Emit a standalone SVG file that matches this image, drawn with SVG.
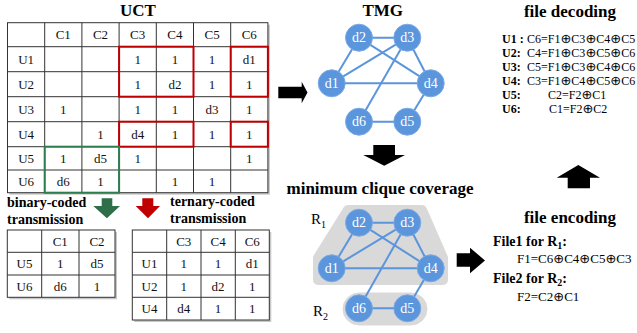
<svg xmlns="http://www.w3.org/2000/svg" width="637" height="333" viewBox="0 0 637 333">
<defs>
<style>
.t{font-family:"Liberation Serif","DejaVu Serif",serif;font-size:13px;fill:#111;text-anchor:middle}
.title{font-family:"Liberation Serif","DejaVu Serif",serif;font-size:17px;font-weight:bold;fill:#000;text-anchor:middle}
.sub{font-family:"Liberation Serif","DejaVu Serif",serif;font-size:14px;font-weight:bold;fill:#000}
.eq{font-family:"Liberation Serif","DejaVu Serif",serif;font-size:12px;fill:#000}
.eq2{font-family:"Liberation Serif","DejaVu Serif",serif;font-size:13px;fill:#000}
.x{font-family:"DejaVu Sans",sans-serif;font-size:13px}
.lab{font-family:"Liberation Serif","DejaVu Serif",serif;font-size:12px;font-weight:bold;fill:#000}
.grid{fill:none;stroke:#333;stroke-width:1}
.shadow{fill:#c8c8c8}
.red{fill:none;stroke:#c00000;stroke-width:2}
.grn{fill:none;stroke:#2e7d4f;stroke-width:2}
.edge{stroke:#5b95dc;stroke-width:2;fill:none}
.node circle{fill:#5b95dc;stroke:#7aaae6;stroke-width:1}
.node text{font-family:"Liberation Serif","DejaVu Serif",serif;font-size:14px;fill:#fff;text-anchor:middle}
.region{fill:#d9d9d9;stroke:#d9d9d9}
.arrow{fill:#000}
.rl{font-family:"Liberation Serif","DejaVu Serif",serif;font-size:15px;fill:#000}
</style>
</defs>

<!-- UCT table -->
<g id="uct">
<text class="title" x="138" y="16">UCT</text>
<rect class="shadow" x="9.5" y="24.7" width="260.4" height="170"/>
<rect x="7.5" y="22.7" width="260.4" height="170" fill="#fff"/>
<g class="grid">
<rect x="7.5" y="22.7" width="260.4" height="170"/>
<path d="M44.7 22.7V192.7M81.9 22.7V192.7M119.1 22.7V192.7M156.3 22.7V192.7M193.5 22.7V192.7M230.7 22.7V192.7"/>
<path d="M7.5 46.7H267.9M7.5 71.7H267.9M7.5 96.7H267.9M7.5 121.7H267.9M7.5 146.7H267.9M7.5 170H267.9"/>
</g>
<g class="t">
<text x="63.3" y="39">C1</text><text x="100.5" y="39">C2</text><text x="137.7" y="39">C3</text><text x="174.9" y="39">C4</text><text x="212.1" y="39">C5</text><text x="249.3" y="39">C6</text>
<text x="26.1" y="63.5">U1</text><text x="137.7" y="63.5">1</text><text x="174.9" y="63.5">1</text><text x="212.1" y="63.5">1</text><text x="249.3" y="63.5">d1</text>
<text x="26.1" y="88.5">U2</text><text x="137.7" y="88.5">1</text><text x="174.9" y="88.5">d2</text><text x="212.1" y="88.5">1</text><text x="249.3" y="88.5">1</text>
<text x="26.1" y="113.5">U3</text><text x="63.3" y="113.5">1</text><text x="137.7" y="113.5">1</text><text x="174.9" y="113.5">1</text><text x="212.1" y="113.5">d3</text><text x="249.3" y="113.5">1</text>
<text x="26.1" y="138.5">U4</text><text x="100.5" y="138.5">1</text><text x="137.7" y="138.5">d4</text><text x="174.9" y="138.5">1</text><text x="212.1" y="138.5">1</text><text x="249.3" y="138.5">1</text>
<text x="26.1" y="162.5">U5</text><text x="63.3" y="162.5">1</text><text x="100.5" y="162.5">d5</text><text x="137.7" y="162.5">1</text><text x="249.3" y="162.5">1</text>
<text x="26.1" y="186">U6</text><text x="63.3" y="186">d6</text><text x="100.5" y="186">1</text><text x="174.9" y="186">1</text><text x="212.1" y="186">1</text>
</g>
<rect class="red" x="119.1" y="46.7" width="74.4" height="50"/>
<rect class="red" x="230.7" y="46.7" width="37.2" height="50"/>
<rect class="red" x="119.1" y="121.7" width="74.4" height="25"/>
<rect class="red" x="230.7" y="121.7" width="37.2" height="25"/>
<rect class="grn" x="44.7" y="146.7" width="74.4" height="46"/>
</g>

<!-- labels and arrows below UCT -->
<g id="binary-label">
<text class="sub" x="7" y="207">binary-coded</text>
<text class="sub" x="7" y="224">transmission</text>
<polygon fill="#2e6e48" points="101.7,198.3 112.3,198.3 112.3,206 120,206 106.9,218.3 93.3,206 101.7,206"/>
</g>
<g id="ternary-label">
<text class="sub" x="170" y="206">ternary-coded</text>
<text class="sub" x="170" y="223">transmission</text>
<polygon fill="#c00000" points="142.3,198.3 153.3,198.3 153.3,206 160,206 148,218.3 135.7,206 142.3,206"/>
</g>

<!-- binary table -->
<g id="binary-table">
<rect class="shadow" x="9.3" y="232" width="107.7" height="67.3"/>
<rect x="7.3" y="230" width="107.7" height="67.3" fill="#fff"/>
<g class="grid">
<rect x="7.3" y="230" width="107.7" height="67.3"/>
<path d="M41.7 230V297.3M79 230V297.3M7.3 252.3H115M7.3 275H115"/>
</g>
<g class="t">
<text x="60.3" y="245.5">C1</text><text x="97" y="245.5">C2</text>
<text x="24.5" y="268">U5</text><text x="60.3" y="268">1</text><text x="97" y="268">d5</text>
<text x="24.5" y="290.5">U6</text><text x="60.3" y="290.5">d6</text><text x="97" y="290.5">1</text>
</g>
</g>

<!-- ternary table -->
<g id="ternary-table">
<rect class="shadow" x="134.3" y="232" width="137" height="90"/>
<rect x="132.3" y="230" width="137" height="90" fill="#fff"/>
<g class="grid">
<rect x="132.3" y="230" width="137" height="90"/>
<path d="M166.7 230V320M201 230V320M235.3 230V320M132.3 252.3H269.3M132.3 275H269.3M132.3 297.3H269.3"/>
</g>
<g class="t">
<text x="183.8" y="245.5">C3</text><text x="218.1" y="245.5">C4</text><text x="252.3" y="245.5">C6</text>
<text x="149.5" y="268">U1</text><text x="183.8" y="268">1</text><text x="218.1" y="268">1</text><text x="252.3" y="268">d1</text>
<text x="149.5" y="290.5">U2</text><text x="183.8" y="290.5">1</text><text x="218.1" y="290.5">d2</text><text x="252.3" y="290.5">1</text>
<text x="149.5" y="313">U4</text><text x="183.8" y="313">d4</text><text x="218.1" y="313">1</text><text x="252.3" y="313">1</text>
</g>
</g>

<!-- block arrows -->
<g id="arrows">
<polygon class="arrow" points="278.3,86.7 301.7,86.7 301.7,81.7 307.5,92.5 301.7,103.3 301.7,98.3 278.3,98.3"/>
<polygon class="arrow" points="373.3,145 395,145 395,155 405,155 384.2,165.7 363.3,155 373.3,155"/>
<polygon class="arrow" points="456.7,253.3 470,253.3 470,247.7 485,260.5 470,273.3 470,266.7 456.7,266.7"/>
<polygon class="arrow" points="567.7,188.3 590,188.3 590,177.7 600,177.7 578.3,165 556.7,177.7 567.7,177.7"/>
</g>

<!-- TMG -->
<g id="tmg">
<text class="title" x="382.7" y="16">TMG</text>
</g>
<g id="tmg-edges">
<line class="edge" x1="359" y1="37.7" x2="407.3" y2="37.7"/>
<line class="edge" x1="359" y1="37.7" x2="331.7" y2="83.3"/>
<line class="edge" x1="359" y1="37.7" x2="430.7" y2="83.3"/>
<line class="edge" x1="407.3" y1="37.7" x2="331.7" y2="83.3"/>
<line class="edge" x1="407.3" y1="37.7" x2="430.7" y2="83.3"/>
<line class="edge" x1="407.3" y1="37.7" x2="359" y2="121.7"/>
<line class="edge" x1="331.7" y1="83.3" x2="430.7" y2="83.3"/>
<line class="edge" x1="430.7" y1="83.3" x2="407.3" y2="121.7"/>
<line class="edge" x1="359" y1="121.7" x2="407.3" y2="121.7"/>
</g>
<g id="tmg-d1" class="node"><circle cx="331.7" cy="83.3" r="13.5"/><text x="331.7" y="88">d1</text></g>
<g id="tmg-d2" class="node"><circle cx="359" cy="37.7" r="13.5"/><text x="359" y="42.4">d2</text></g>
<g id="tmg-d3" class="node"><circle cx="407.3" cy="37.7" r="13.5"/><text x="407.3" y="42.4">d3</text></g>
<g id="tmg-d4" class="node"><circle cx="430.7" cy="83.3" r="13.5"/><text x="430.7" y="88">d4</text></g>
<g id="tmg-d5" class="node"><circle cx="407.3" cy="121.7" r="13.5"/><text x="407.3" y="126.4">d5</text></g>
<g id="tmg-d6" class="node"><circle cx="359" cy="121.7" r="13.5"/><text x="359" y="126.4">d6</text></g>

<!-- minimum clique coverage -->
<g id="mcc">
<text class="title" x="380" y="194">minimum clique coverage</text>
<polygon class="region" stroke-width="10" stroke-linejoin="round" points="348,210 422,210 443,258 443,280 318,280 318,258"/>
<rect class="region" x="343" y="293" width="84" height="32" rx="16"/>
<text class="rl" x="311" y="224">R<tspan font-size="10" dy="4">1</tspan></text>
<text class="rl" x="313" y="316">R<tspan font-size="10" dy="4">2</tspan></text>
</g>
<g id="mcc-edges">
<line class="edge" x1="359" y1="222.7" x2="407.3" y2="222.7"/>
<line class="edge" x1="359" y1="222.7" x2="331.7" y2="268.3"/>
<line class="edge" x1="359" y1="222.7" x2="430.7" y2="268.3"/>
<line class="edge" x1="407.3" y1="222.7" x2="331.7" y2="268.3"/>
<line class="edge" x1="407.3" y1="222.7" x2="430.7" y2="268.3"/>
<line class="edge" x1="407.3" y1="222.7" x2="359" y2="308.3"/>
<line class="edge" x1="331.7" y1="268.3" x2="430.7" y2="268.3"/>
<line class="edge" x1="430.7" y1="268.3" x2="407.3" y2="308.3"/>
<line class="edge" x1="359" y1="308.3" x2="407.3" y2="308.3"/>
</g>
<g id="mcc-d1" class="node"><circle cx="331.7" cy="268.3" r="13.5"/><text x="331.7" y="273">d1</text></g>
<g id="mcc-d2" class="node"><circle cx="359" cy="222.7" r="13.5"/><text x="359" y="227.4">d2</text></g>
<g id="mcc-d3" class="node"><circle cx="407.3" cy="222.7" r="13.5"/><text x="407.3" y="227.4">d3</text></g>
<g id="mcc-d4" class="node"><circle cx="430.7" cy="268.3" r="13.5"/><text x="430.7" y="273">d4</text></g>
<g id="mcc-d5" class="node"><circle cx="407.3" cy="308.3" r="13.5"/><text x="407.3" y="313">d5</text></g>
<g id="mcc-d6" class="node"><circle cx="359" cy="308.3" r="13.5"/><text x="359" y="313">d6</text></g>

<!-- file decoding -->
<g id="decoding">
<text class="title" x="570" y="17">file decoding</text>
<text class="lab" x="502" y="43">U1 :</text><text class="eq" x="527" y="43">C6=F1<tspan class="x">⊕</tspan>C3<tspan class="x">⊕</tspan>C4<tspan class="x">⊕</tspan>C5</text>
<text class="lab" x="502" y="57">U2:</text><text class="eq" x="527" y="57">C4=F1<tspan class="x">⊕</tspan>C3<tspan class="x">⊕</tspan>C5<tspan class="x">⊕</tspan>C6</text>
<text class="lab" x="502" y="70.5">U3:</text><text class="eq" x="527" y="70.5">C5=F1<tspan class="x">⊕</tspan>C3<tspan class="x">⊕</tspan>C4<tspan class="x">⊕</tspan>C6</text>
<text class="lab" x="502" y="84.5">U4:</text><text class="eq" x="527" y="84.5">C3=F1<tspan class="x">⊕</tspan>C4<tspan class="x">⊕</tspan>C5<tspan class="x">⊕</tspan>C6</text>
<text class="lab" x="502" y="99">U5:</text><text class="eq" x="548" y="99">C2=F2<tspan class="x">⊕</tspan>C1</text>
<text class="lab" x="502" y="112.5">U6:</text><text class="eq" x="549" y="112.5">C1=F2<tspan class="x">⊕</tspan>C2</text>
</g>

<!-- file encoding -->
<g id="encoding">
<text class="title" x="570" y="223">file encoding</text>
<text class="sub" x="493" y="246">File1 for R<tspan font-size="10" dy="3">1</tspan><tspan dy="-3">:</tspan></text>
<text class="eq2" x="517" y="263">F1=C6<tspan class="x">⊕</tspan>C4<tspan class="x">⊕</tspan>C5<tspan class="x">⊕</tspan>C3</text>
<text class="sub" x="493" y="283">File2 for R<tspan font-size="10" dy="3">2</tspan><tspan dy="-3">:</tspan></text>
<text class="eq2" x="517" y="301">F2=C2<tspan class="x">⊕</tspan>C1</text>
</g>
</svg>
